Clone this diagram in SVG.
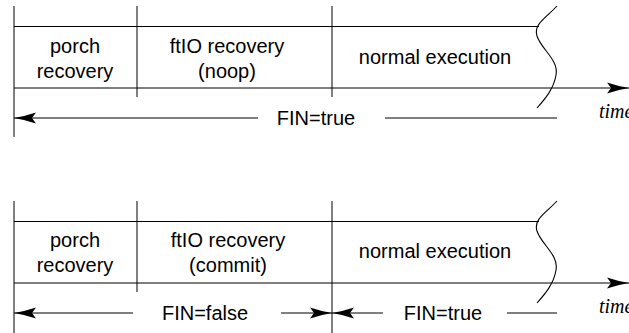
<svg xmlns="http://www.w3.org/2000/svg" width="629" height="333" viewBox="0 0 629 333">
<style>
.ln{stroke:#000;stroke-width:1;fill:none}
.wv{stroke:#000;stroke-width:1.1;fill:none}
.t{font-family:"Liberation Sans",Arial,sans-serif;font-size:20px;fill:#000;text-anchor:middle}
.tm{font-family:"Liberation Serif","Times New Roman",serif;font-style:italic;font-size:20px;fill:#000}
</style>
<defs>
<marker id="ah" markerUnits="userSpaceOnUse" markerWidth="24" markerHeight="14" viewBox="-23 -7 24 14" refX="0" refY="0" orient="auto">
<path d="M0,0 Q-10,-1.5 -22,-5.5 L-18,0 L-22,5.5 Q-10,1.5 0,0 Z" fill="#000"/>
</marker>
</defs>

<!-- Top diagram -->
<g id="top">
<g id="top-frame">
<line class="ln" x1="14" y1="6" x2="14" y2="137"/>
<line class="ln" x1="137" y1="6" x2="137" y2="97"/>
<line class="ln" x1="332" y1="6" x2="332" y2="97"/>
<line class="ln" x1="14" y1="26.5" x2="539" y2="26.5"/>
<path class="wv" d="M557,6 C547,17 533,24 537,36 C541,49 559,60 556,75 C554,88 546,98 537,108"/>
</g>
<g id="top-porch"><text class="t" x="75" y="53">porch</text><text class="t" x="75" y="78">recovery</text></g>
<g id="top-ftio"><text class="t" x="227" y="53">ftIO recovery</text><text class="t" x="227" y="78">(noop)</text></g>
<g id="top-normal"><text class="t" x="435" y="64">normal execution</text></g>
<g id="top-fin"><text class="t" x="316" y="125">FIN=true</text></g>
<text class="tm" x="599" y="118">time</text>
</g>

<!-- Bottom diagram -->
<g id="bottom">
<g id="bottom-frame">
<line class="ln" x1="14" y1="201" x2="14" y2="333"/>
<line class="ln" x1="137" y1="201" x2="137" y2="292"/>
<line class="ln" x1="332" y1="201" x2="332" y2="333"/>
<line class="ln" x1="14" y1="221.5" x2="539" y2="221.5"/>
<path class="wv" d="M557,201 C547,212 533,219 537,231 C541,244 559,255 556,270 C554,283 546,293 537,303"/>
</g>
<g id="bottom-porch"><text class="t" x="75" y="247">porch</text><text class="t" x="75" y="272">recovery</text></g>
<g id="bottom-ftio"><text class="t" x="228" y="247">ftIO recovery</text><text class="t" x="228" y="272">(commit)</text></g>
<g id="bottom-normal"><text class="t" x="435" y="258">normal execution</text></g>
<g id="bottom-fin-false"><text class="t" x="205" y="320">FIN=false</text></g>
<g id="bottom-fin-true"><text class="t" x="443" y="320">FIN=true</text></g>
<text class="tm" x="599" y="313">time</text>
</g>

<g id="connectors">
<line class="ln" x1="14" y1="88" x2="629" y2="88" marker-end="url(#ah)"/>
<line class="ln" x1="258" y1="118" x2="14" y2="118" marker-end="url(#ah)"/>
<line class="ln" x1="385" y1="118" x2="557" y2="118"/>
<line class="ln" x1="14" y1="283" x2="629" y2="283" marker-end="url(#ah)"/>
<line class="ln" x1="133" y1="313" x2="14" y2="313" marker-end="url(#ah)"/>
<line class="ln" x1="281" y1="313" x2="332" y2="313" marker-end="url(#ah)"/>
<line class="ln" x1="383" y1="313" x2="332" y2="313" marker-end="url(#ah)"/>
<line class="ln" x1="507" y1="313" x2="557" y2="313"/>
</g>
</svg>
